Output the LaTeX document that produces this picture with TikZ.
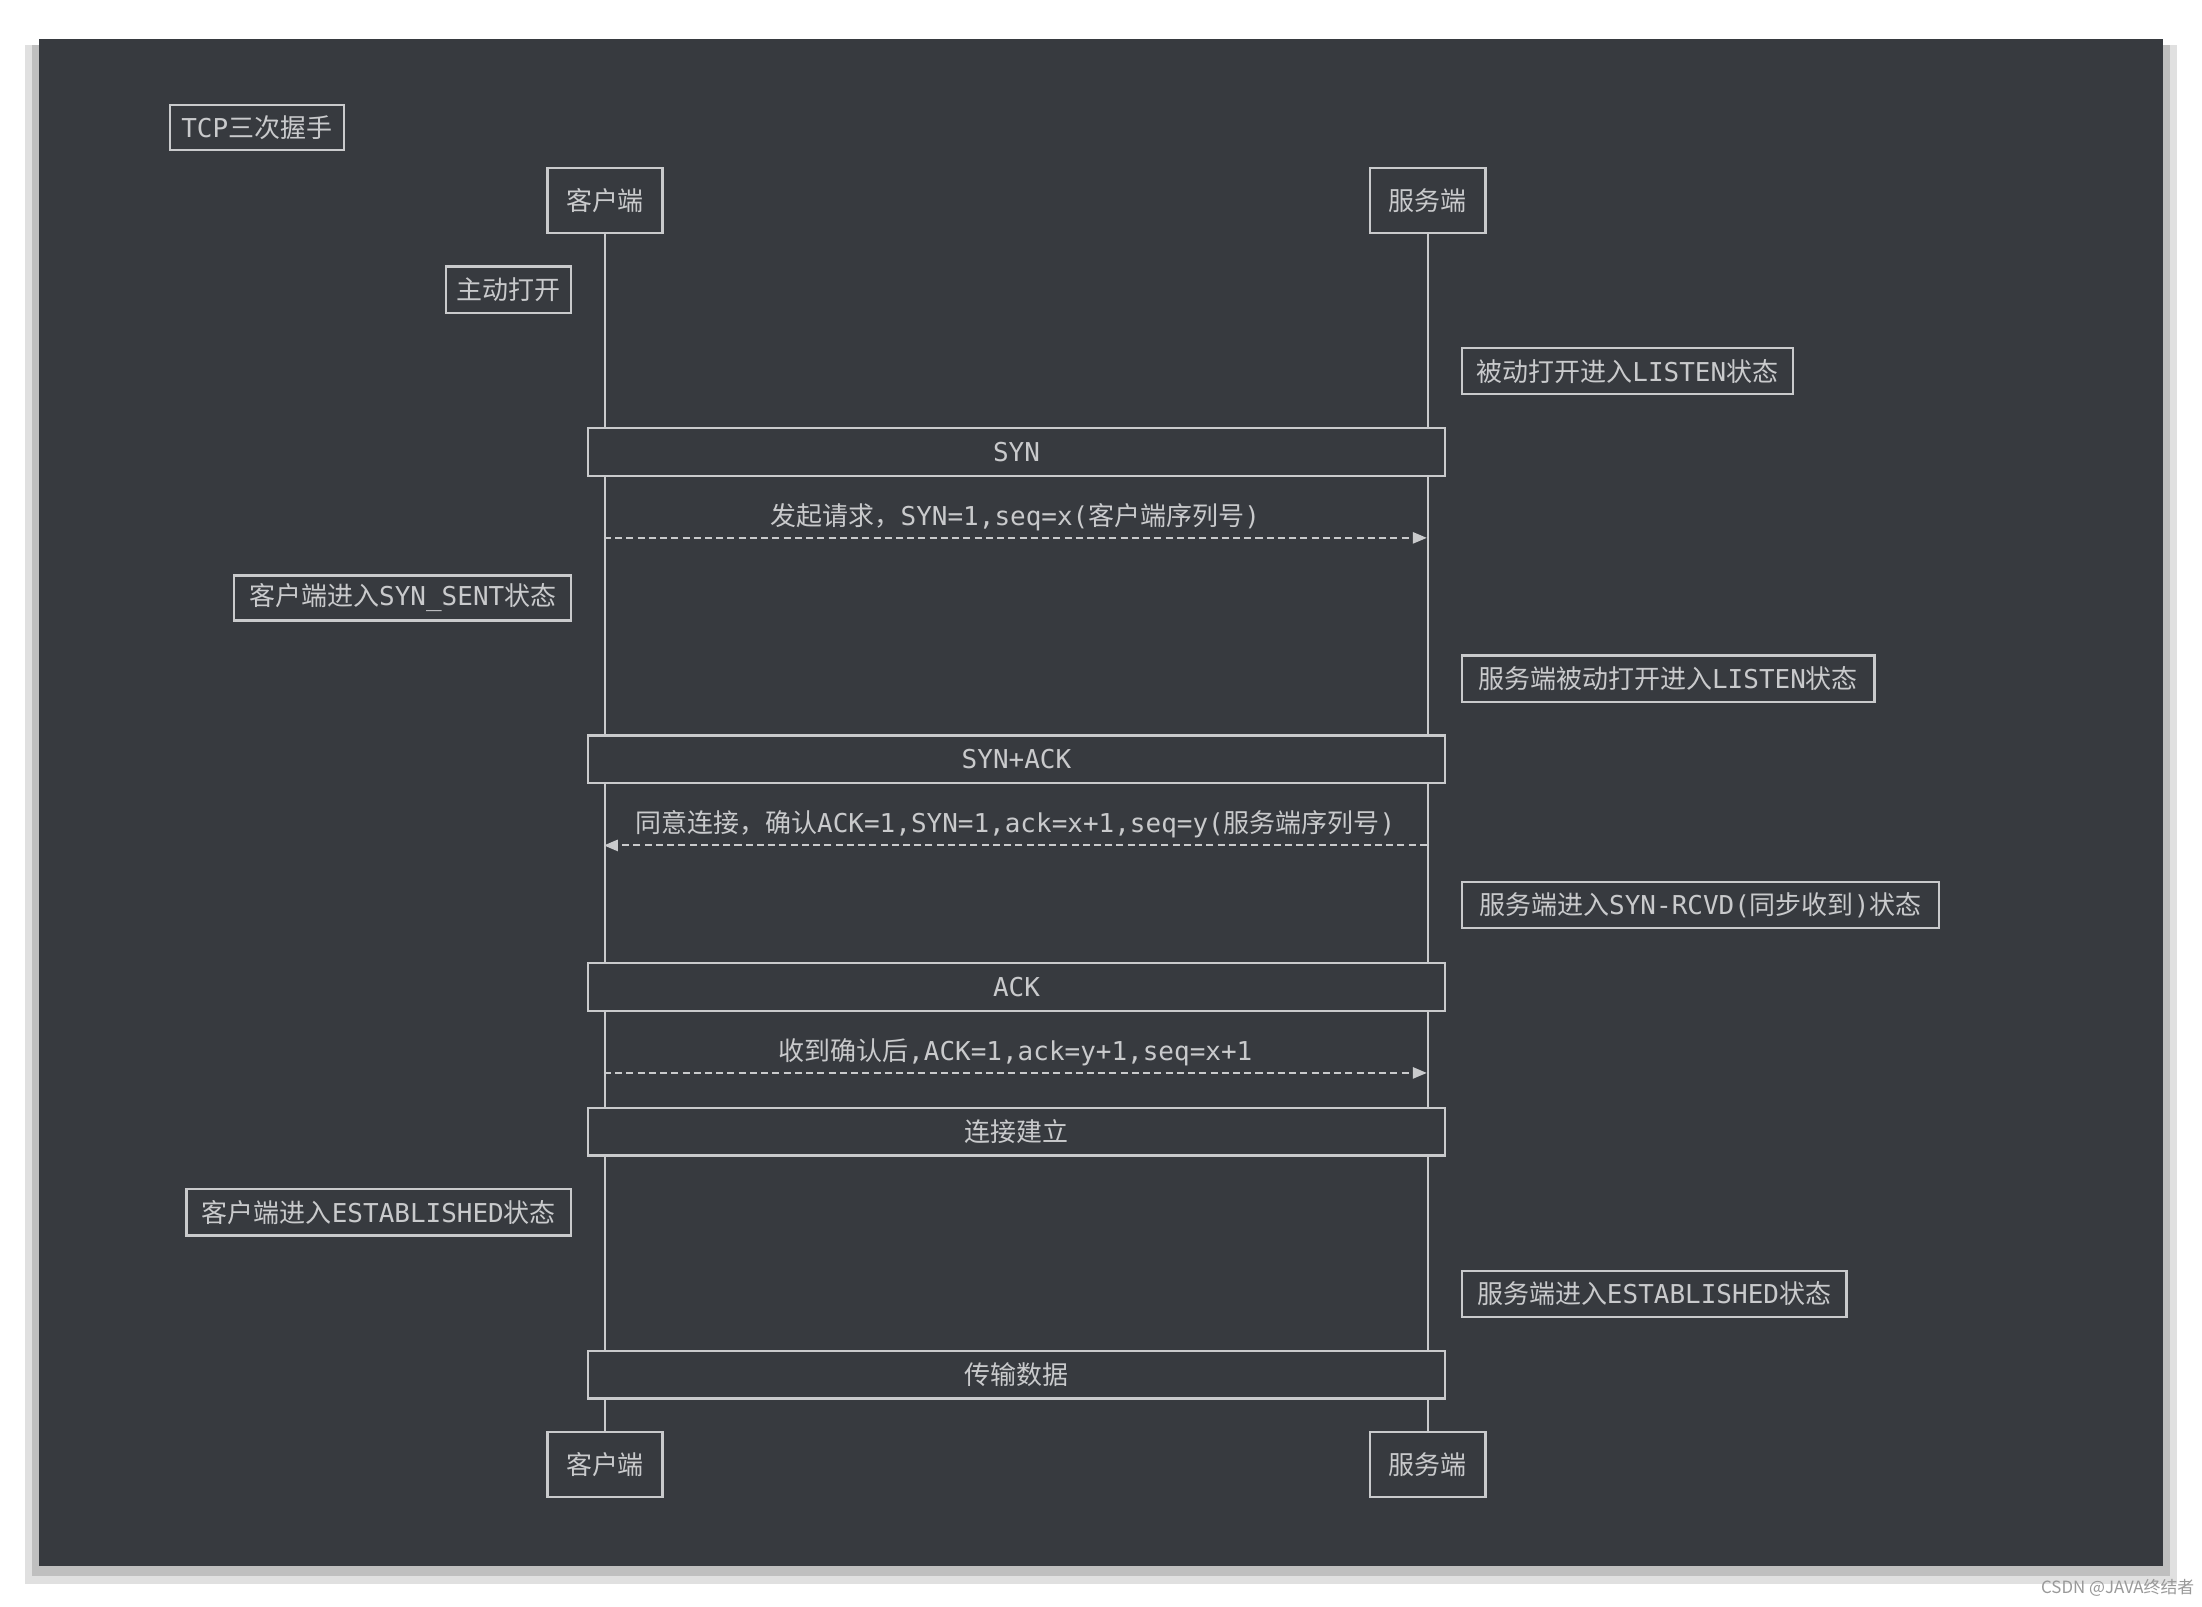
\documentclass[tikz,border=0pt]{standalone}
\usepackage{fontspec}
\setmainfont{DejaVu Sans Mono}
\newfontfamily\cjkf{Noto Sans CJK SC}
\newcommand\zh[1]{{\cjkf #1}}
\usetikzlibrary{arrows.meta}
\definecolor{bg}{HTML}{373A3F}
\definecolor{ln}{HTML}{C9CACC}
\begin{document}
\begin{tikzpicture}[x=1pt,y=-1pt,
  bx/.style={draw=ln,line width=1.6pt,text=ln,fill=bg,anchor=north west,inner sep=0pt,font=\fontsize{18.5}{21}\selectfont},
  msg/.style={draw=ln,line width=1.5pt,dash pattern=on 5pt off 3pt,-{Triangle[length=10pt,width=8pt]}},
  lbl/.style={text=ln,font=\fontsize{18.5}{21}\selectfont}]
\useasboundingbox (0,0) rectangle (1568,1144);
\fill[white] (0,0) rectangle (1568,1144);
\fill[black!12] (18,32) rectangle (1550,1128);
\fill[black!25] (23,32) rectangle (1545,1122);
\fill[bg] (28,28) rectangle (1540,1115);
\node[bx,minimum width=124,minimum height=32] (t) at (120,74) {TCP\zh{三次握手}};
\node[bx,minimum width=82,minimum height=46] (c1) at (389,119) {\zh{客户端}};
\node[bx,minimum width=82,minimum height=46] (s1) at (975,119) {\zh{服务端}};
\node[bx,minimum width=82,minimum height=46] (c2) at (389,1019) {\zh{客户端}};
\node[bx,minimum width=82,minimum height=46] (s2) at (975,1019) {\zh{服务端}};
\draw[ln,line width=1.6pt] (c1.south) -- (c2.north);
\draw[ln,line width=1.6pt] (s1.south) -- (s2.north);
\node[bx,minimum width=89,minimum height=33] (n1) at (317,189) {\zh{主动打开}};
\node[bx,minimum width=236,minimum height=33] (n2) at (1040,247) {\zh{被动打开进入}LISTEN\zh{状态}};
\node[bx,minimum width=610,minimum height=34] (b1) at (418,304) {SYN};
\coordinate (a1) at (430,383); \coordinate (a2) at (1016,383);
\draw[msg] (a1) -- (a2) node[lbl,midway,above=1pt] {\zh{发起请求，}SYN=1,seq=x(\zh{客户端序列号})};
\node[bx,minimum width=240,minimum height=32] (n3) at (166,409) {\zh{客户端进入}SYN\_SENT\zh{状态}};
\node[bx,minimum width=294,minimum height=33] (n4) at (1040,466) {\zh{服务端被动打开进入}LISTEN\zh{状态}};
\node[bx,minimum width=610,minimum height=34] (b2) at (418,523) {SYN+ACK};
\coordinate (a3) at (1016,602); \coordinate (a4) at (430,602);
\draw[msg] (a3) -- (a4) node[lbl,midway,above=1pt] {\zh{同意连接，确认}ACK=1,SYN=1,ack=x+1,seq=y(\zh{服务端序列号})};
\node[bx,minimum width=340,minimum height=33] (n5) at (1040,627) {\zh{服务端进入}SYN-RCVD(\zh{同步收到})\zh{状态}};
\node[bx,minimum width=610,minimum height=34] (b3) at (418,685) {ACK};
\coordinate (a5) at (430,764); \coordinate (a6) at (1016,764);
\draw[msg] (a5) -- (a6) node[lbl,midway,above=1pt] {\zh{收到确认后},ACK=1,ack=y+1,seq=x+1};
\node[bx,minimum width=610,minimum height=34] (b4) at (418,788) {\zh{连接建立}};
\node[bx,minimum width=274,minimum height=33] (n6) at (132,846) {\zh{客户端进入}ESTABLISHED\zh{状态}};
\node[bx,minimum width=274,minimum height=33] (n7) at (1040,904) {\zh{服务端进入}ESTABLISHED\zh{状态}};
\node[bx,minimum width=610,minimum height=34] (b5) at (418,961) {\zh{传输数据}};
\node[text=black!40,font=\cjkf\fontsize{12}{14}\selectfont,anchor=east] (wm) at (1566,1131) {CSDN @JAVA终结者};
\end{tikzpicture}
\end{document}
